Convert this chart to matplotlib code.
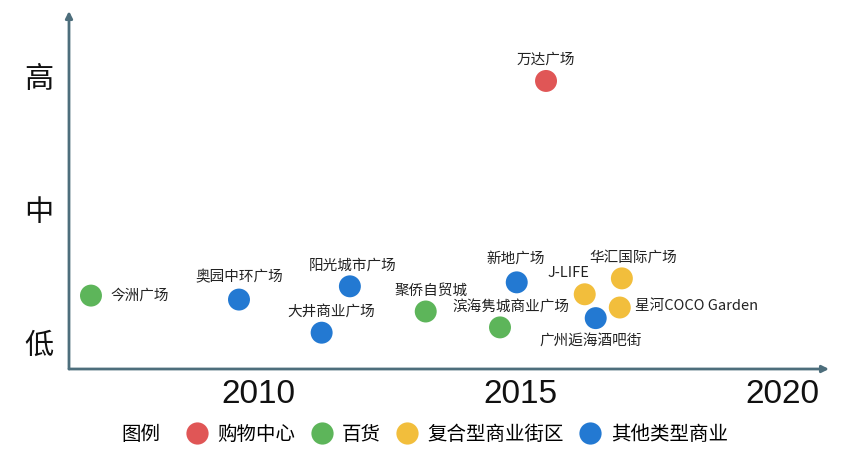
import matplotlib.pyplot as plt
from matplotlib.lines import Line2D

plt.rcParams['font.family'] = ['Noto Sans CJK SC', 'DejaVu Sans']

# data (x = year, y = level 1 低 .. 3 高)
names = ['今洲广场', '奥园中环广场', '大井商业广场', '阳光城市广场', '聚侨自贸城',
         '滨海隽城商业广场', '新地广场', '万达广场', 'J-LIFE', '华汇国际广场',
         '星河COCO Garden', '广州逅海酒吧街']
years = [2006.79, 2009.62, 2011.20, 2011.74, 2013.19, 2014.61, 2014.93,
         2015.49, 2016.23, 2016.94, 2016.90, 2016.44]
levels = [1.35, 1.32, 1.07, 1.42, 1.23, 1.11, 1.45, 2.97, 1.36, 1.48, 1.26, 1.18]
kinds = ['百货', '其他类型商业', '其他类型商业', '其他类型商业', '百货',
         '百货', '其他类型商业', '购物中心', '复合型商业街区', '复合型商业街区',
         '复合型商业街区', '其他类型商业']
kind_names = ['购物中心', '百货', '复合型商业街区', '其他类型商业']
kind_colors = ['#e05656', '#5db55a', '#f2be3c', '#2379d2']
level_ticks = [1, 2, 3]
level_labels = ['低', '中', '高']
year_ticks = [2010, 2015, 2020]

# label placement: (dx, dy) in points, ha
label_pos = {
    '今洲广场': (14, 0, 'left'),
    '奥园中环广场': (0, 16, 'center'),
    '大井商业广场': (7, 15, 'center'),
    '阳光城市广场': (2, 15, 'center'),
    '聚侨自贸城': (4, 15, 'center'),
    '滨海隽城商业广场': (8, 15, 'center'),
    '新地广场': (-1, 17, 'center'),
    '万达广场': (0, 15, 'center'),
    'J-LIFE': (-12, 15, 'center'),
    '华汇国际广场': (8, 15, 'center'),
    '星河COCO Garden': (11, 1, 'left'),
    '广州逅海酒吧街': (-4, -16, 'center'),
}

axis_col = '#4d6e7c'

fig = plt.figure(figsize=(8.5, 4.74), dpi=100)
ax = fig.add_axes([69/850, 1-369/474, 760/850, 358/474])
ax.set_xlim(2006.37, 2020.90)
ax.set_ylim(0.796, 3.498)

color_of = dict(zip(kind_names, kind_colors))
for n, x, y, k in zip(names, years, levels, kinds):
    ax.scatter(x, y, s=250, color=color_of[k], edgecolors='none', zorder=3)
    dx, dy, ha = label_pos[n]
    ax.annotate(n, (x, y), xytext=(dx, dy), textcoords='offset points',
                ha=ha, va='center', fontsize=10.5, color='#222222')

for s in ax.spines.values():
    s.set_visible(False)
ax.annotate('', xy=(0, 1), xytext=(0, 0), xycoords='axes fraction',
            arrowprops=dict(arrowstyle='-|>', color=axis_col, lw=2,
                            mutation_scale=10, shrinkA=0, shrinkB=0))
ax.annotate('', xy=(1, 0), xytext=(0, 0), xycoords='axes fraction',
            arrowprops=dict(arrowstyle='-|>', color=axis_col, lw=2,
                            mutation_scale=10, shrinkA=0, shrinkB=0))

ax.set_yticks(level_ticks)
ax.set_yticklabels(level_labels, fontsize=21, color='#111111')
ax.set_xticks(year_ticks)
ax.set_xticklabels([str(t) for t in year_ticks], fontsize=24,
                   family=['Liberation Sans'], color='#111111')
ax.tick_params(axis='both', length=0)
ax.tick_params(axis='y', pad=11)
ax.tick_params(axis='x', pad=7)

# legend
fig.text(141/850, 1-434/474, '图例', ha='center', va='center', fontsize=14)
handles = [Line2D([], [], ls='none', marker='o', ms=16, color=c, mec='none')
           for c in kind_colors]
fig.legend(handles, kind_names, loc='center', bbox_to_anchor=(458/850, 1-434/474),
           ncol=4, frameon=False, fontsize=14, handlelength=0.9,
           handletextpad=0.6, columnspacing=0.9)

fig.savefig('out.png', dpi=100)
